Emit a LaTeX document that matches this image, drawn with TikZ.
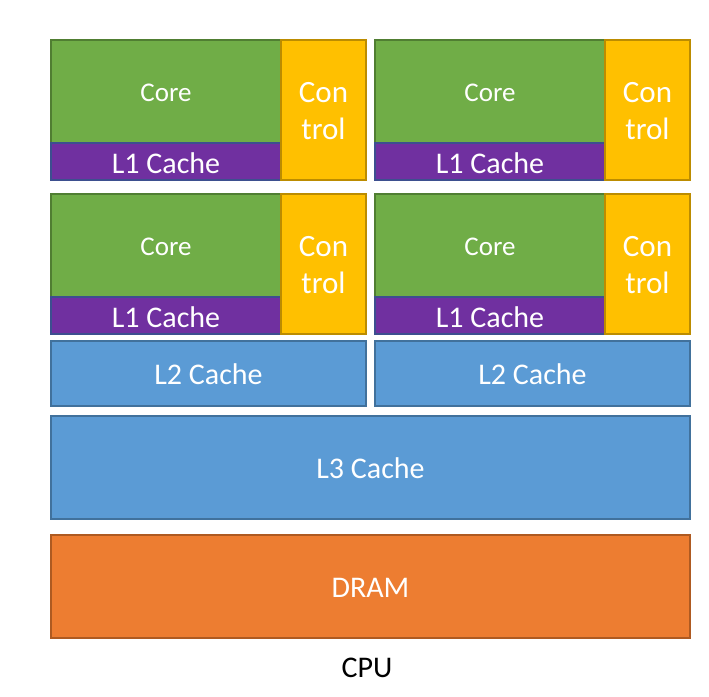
\documentclass[tikz,border=0pt]{standalone}
\usepackage{fontspec}
\setmainfont{Carlito}
\definecolor{coreG}{HTML}{70AD47}
\definecolor{coreGb}{HTML}{507E32}
\definecolor{l1P}{HTML}{7030A0}
\definecolor{l1Pb}{HTML}{3D4F8F}
\definecolor{ctrlY}{HTML}{FFC000}
\definecolor{ctrlYb}{HTML}{BC8C00}
\definecolor{cacheB}{HTML}{5B9BD5}
\definecolor{cacheBb}{HTML}{41719C}
\definecolor{dramO}{HTML}{ED7D31}
\definecolor{dramOb}{HTML}{AE5A21}
\tikzset{
  blk/.style={rectangle, inner sep=0pt, outer sep=0pt, line width=1.5pt, text=white, align=center},
  corebox/.style={blk, fill=coreG, draw=coreGb, minimum width=230pt, minimum height=103pt, font=\fontsize{27}{32}\selectfont},
  l1box/.style={blk, fill=l1P, draw=l1Pb, minimum width=230pt, minimum height=37pt, font=\fontsize{30}{36}\selectfont},
  ctrlbox/.style={blk, fill=ctrlY, draw=ctrlYb, minimum width=85pt, minimum height=140pt, font=\fontsize{31}{37}\selectfont},
  cachebox/.style={blk, fill=cacheB, draw=cacheBb, font=\fontsize{30}{36}\selectfont},
  drambox/.style={blk, fill=dramO, draw=dramOb, font=\fontsize{30}{36}\selectfont},
  lbl/.style={text=white, inner sep=0pt, align=center},
}
\begin{document}
\begin{tikzpicture}[x=1pt, y=-1pt]
\useasboundingbox (0,0) rectangle (709,696);
\fill[white] (0,0) rectangle (709,696);
\foreach \x/\y/\n in {51/40/a, 375/40/b, 51/194/c, 375/194/d} {
  \node[corebox] (core\n) at (\x+115, \y+51.5) {};
  \node[lbl, font=\fontsize{27}{32}\selectfont] at ([yshift=-1pt]core\n.center) {Core};
  \node[l1box] (l1\n) at (\x+115, \y+121.5) {};
  \node[lbl, font=\fontsize{30}{36}\selectfont] at ([yshift=-1.5pt]l1\n.center) {L1 Cache};
  \node[ctrlbox] (ctrl\n) at (\x+272.5, \y+70) {};
  \node[lbl, font=\fontsize{31}{37}\selectfont] at ([yshift=-1pt]ctrl\n.center) {Con\\trol};
}
\node[cachebox, minimum width=315pt, minimum height=65pt] (l2a) at (208.5, 373.5) {};
\node[lbl, font=\fontsize{30}{36}\selectfont] at ([yshift=-1pt]l2a.center) {L2 Cache};
\node[cachebox, minimum width=315pt, minimum height=65pt] (l2b) at (532.5, 373.5) {};
\node[lbl, font=\fontsize{30}{36}\selectfont] at ([yshift=-1pt]l2b.center) {L2 Cache};
\node[cachebox, minimum width=639pt, minimum height=103pt] (l3) at (370.5, 467.5) {};
\node[lbl, font=\fontsize{30}{36}\selectfont] at ([yshift=-1pt]l3.center) {L3 Cache};
\node[drambox, minimum width=639pt, minimum height=103pt] (dram) at (370.5, 586.5) {};
\node[lbl, font=\fontsize{30}{36}\selectfont] at ([yshift=-1pt]dram.center) {DRAM};
\node[font=\fontsize{30}{36}\selectfont, text=black, inner sep=0pt] (cpu) at (367, 668) {CPU};
\end{tikzpicture}
\end{document}
